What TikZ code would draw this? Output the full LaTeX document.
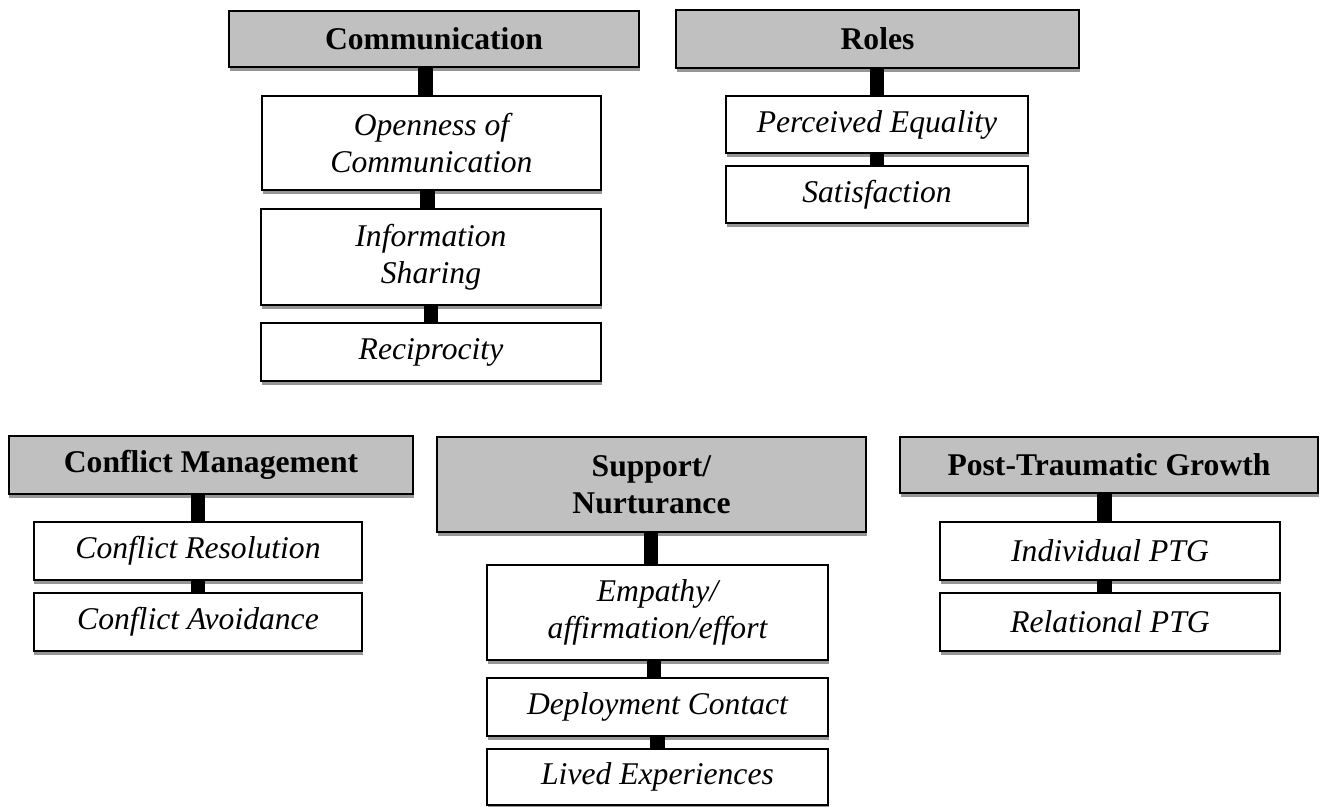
\documentclass[tikz,border=0pt]{standalone}
\usepackage{fontspec}
\setmainfont{Liberation Serif}
\usetikzlibrary{shadows}
\definecolor{hdrgray}{RGB}{192,192,192}
\definecolor{shgray}{RGB}{150,150,150}
\tikzset{
  wh/.style 2 args={minimum width=#1*0.02cm, minimum height=#2*0.02cm},
  basebox/.style={draw=black, line width=1.2pt, inner sep=0pt, align=center,
    font=\fontsize{18}{21}\selectfont,
    drop shadow={shadow xshift=0.01cm, shadow yshift=-0.08cm, fill=shgray, opacity=1}},
  hdr/.style={basebox, fill=hdrgray, font=\fontsize{18}{21}\selectfont\bfseries},
  sub/.style={basebox, fill=white, font=\fontsize{18}{21}\selectfont\itshape},
  conn/.style={draw=black, line width=8.5pt}
}
\begin{document}
\begin{tikzpicture}[x=0.02cm, y=-0.02cm]
\useasboundingbox (0,0) rectangle (1320,807);
% Communication
\node[hdr, wh={410}{56}] (comm) at (434,39) {Communication};
\node[sub, wh={339}{94}] (open) at (431.5,143) {Openness of\\Communication};
\node[sub, wh={340}{96}] (info) at (431,257) {Information\\Sharing};
\node[sub, wh={340}{58}] (recip) at (431,352) {Reciprocity};
% Roles
\node[hdr, wh={403}{58}] (roles) at (877.5,39) {Roles};
\node[sub, wh={302}{57}] (pe) at (877,124.5) {Perceived Equality};
\node[sub, wh={302}{57}] (sat) at (877,194.5) {Satisfaction};
% Conflict Management
\node[hdr, wh={404}{58}] (cm) at (211,465) {Conflict Management};
\node[sub, wh={328}{58}] (cr) at (198,551) {Conflict Resolution};
\node[sub, wh={328}{58}] (ca) at (198,622) {Conflict Avoidance};
% Support / Nurturance
\node[hdr, wh={429}{95}] (sup) at (651.5,484.5) {Support/\\Nurturance};
\node[sub, wh={341}{95}] (emp) at (657.5,612.5) {Empathy/\\affirmation/effort};
\node[sub, wh={341}{58}] (dep) at (657.5,707) {Deployment Contact};
\node[sub, wh={341}{56}] (lived) at (657.5,777) {Lived Experiences};
% Post-Traumatic Growth
\node[hdr, wh={418}{56}] (ptg) at (1109,465) {Post-Traumatic Growth};
\node[sub, wh={340}{58}] (ipt) at (1110,551) {Individual PTG};
\node[sub, wh={340}{58}] (rpt) at (1110,622) {Relational PTG};
% connectors
\draw[conn] ([xshift=-0.12cm]open.north |- comm.south) -- ([xshift=-0.12cm]open.north);
\draw[conn] ([xshift=-0.07cm]info.north |- open.south) -- ([xshift=-0.07cm]info.north);
\draw[conn] (recip.north |- info.south) -- (recip.north);
\draw[conn] (pe.north |- roles.south) -- (pe.north);
\draw[conn] (sat.north |- pe.south) -- (sat.north);
\draw[conn] (cr.north |- cm.south) -- (cr.north);
\draw[conn] (ca.north |- cr.south) -- (ca.north);
\draw[conn] ([xshift=-0.13cm]emp.north |- sup.south) -- ([xshift=-0.13cm]emp.north);
\draw[conn] ([xshift=-0.07cm]dep.north |- emp.south) -- ([xshift=-0.07cm]dep.north);
\draw[conn] (lived.north |- dep.south) -- (lived.north);
\draw[conn] ([xshift=-0.11cm]ipt.north |- ptg.south) -- ([xshift=-0.11cm]ipt.north);
\draw[conn] ([xshift=-0.11cm]rpt.north |- ipt.south) -- ([xshift=-0.11cm]rpt.north);
\end{tikzpicture}
\end{document}
